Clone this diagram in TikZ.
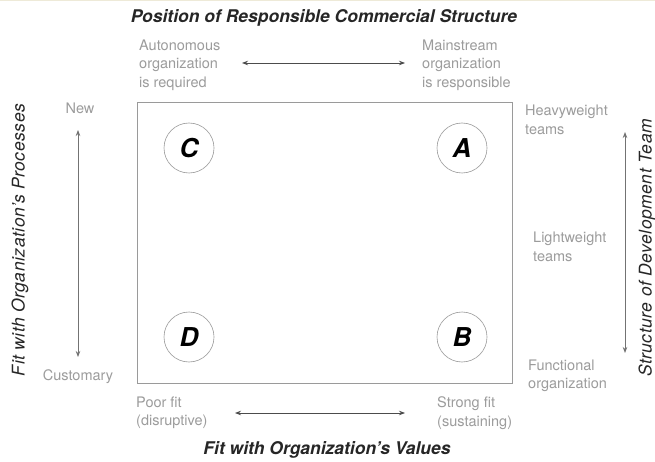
\documentclass[tikz,border=0pt]{standalone}
\usepackage{fontspec}
\setmainfont{TeX Gyre Heros}
\usetikzlibrary{arrows.meta}
\definecolor{lblgray}{HTML}{9C9C9C}
\definecolor{boxgray}{HTML}{9A9A9A}
\definecolor{topline}{HTML}{EEEAD8}
\begin{document}
\begin{tikzpicture}[x=1pt,y=-1pt,
  lbl/.style={text=lblgray, font=\fontsize{14.5}{18.5}\selectfont, align=left, anchor=west, inner sep=0pt},
  ttl/.style={font=\fontsize{17.5}{20}\selectfont\bfseries\itshape, text=black!85, inner sep=0pt},
  side/.style={font=\fontsize{17.5}{18}\selectfont\itshape\addfontfeatures{LetterSpace=3}, text=black!85, rotate=90, inner sep=0pt},
  axis/.style={draw=black!70, line width=0.8pt, {Stealth[length=6pt,width=4.5pt]}-{Stealth[length=6pt,width=4.5pt]}},
  quad/.style={circle, draw=black!40, line width=0.6pt, minimum size=50pt, inner sep=0pt, font=\fontsize{26}{26}\selectfont\bfseries\itshape}
]
\useasboundingbox (0,0) rectangle (655,462);
\fill[white] (0,0) rectangle (655,462);
\draw[topline, line width=1.5pt] (0,0.75) -- (655,0.75);

% main box
\node[draw=boxgray, line width=1pt, minimum width=375pt, minimum height=281pt, inner sep=0pt, anchor=north west] (frame) at (137,102) {};

% quadrant circles
\node[quad] (C) at (189,148) {C};
\node[quad] (A) at (462,148) {A};
\node[quad] (D) at (189,337) {D};
\node[quad] (B) at (462,337) {B};

% titles
\node[ttl] (toptitle) at (324,18) {Position of Responsible Commercial Structure};
\node[ttl] (bottitle) at (327,450) {Fit with Organization's Values};
\node[side] (lefttitle) at (20,240) {Fit with Organization's Processes};
\node[side] (righttitle) at (647,248) {Structure of Development Team};

% top labels
\node[lbl] (auto) at (139,65) {Autonomous\\organization\\is required};
\node[lbl] (main) at (422,65) {Mainstream\\organization\\is responsible};
\coordinate (tA) at (242,63);
\coordinate (tB) at (405,63);
\draw[axis] (tA) -- (tB);

% left labels
\node[lbl, anchor=center] (new) at (80,108) {New};
\node[lbl, anchor=center] (cust) at (78,377) {Customary};
\coordinate (lA) at (78,130);
\coordinate (lB) at (78,357);
\draw[axis, draw=black!55] (lA) -- (lB);

% right labels
\node[lbl] (heavy) at (525,120) {Heavyweight\\teams};
\node[lbl] (light) at (533,247) {Lightweight\\teams};
\node[lbl] (func) at (528,376) {Functional\\organization};
\coordinate (rA) at (625,132);
\coordinate (rB) at (625,353);
\draw[axis, draw=black!55] (rA) -- (rB);

% bottom labels
\node[lbl] (poor) at (136,413) {Poor fit\\(disruptive)};
\node[lbl] (strong) at (437,413) {Strong fit\\(sustaining)};
\coordinate (bA) at (235,413);
\coordinate (bB) at (405,413);
\draw[axis] (bA) -- (bB);
\end{tikzpicture}
\end{document}
